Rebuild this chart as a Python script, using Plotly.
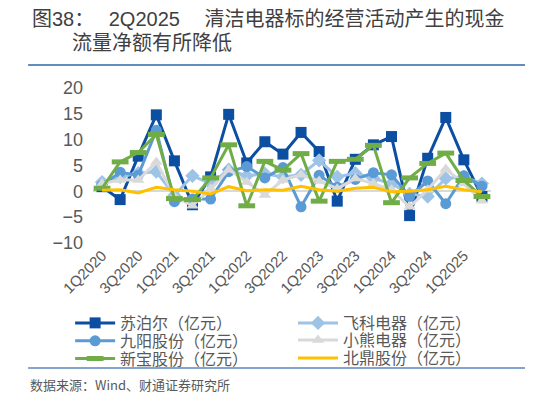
import plotly.graph_objects as go

quarters = ['1Q2020', '2Q2020', '3Q2020', '4Q2020', '1Q2021', '2Q2021', '3Q2021', '4Q2021',
            '1Q2022', '2Q2022', '3Q2022', '4Q2022', '1Q2023', '2Q2023', '3Q2023', '4Q2023',
            '1Q2024', '2Q2024', '3Q2024', '4Q2024', '1Q2025', '2Q2025']
tick_labels = ['1Q2020', '3Q2020', '1Q2021', '3Q2021', '1Q2022', '3Q2022',
               '1Q2023', '3Q2023', '1Q2024', '3Q2024', '1Q2025']

supor = [0.9, -1.6, 6.8, 14.8, 5.9, -2.6, 2.8, 14.9, 5.5, 9.6, 7.2, 11.4, 7.7, -1.9, 6.2, 9.0, 10.6, -4.7, 6.4, 14.3, 6.1, -1.0]
flyco = [1.8, 2.8, 3.5, 3.8, -0.8, 3.0, 1.5, 4.2, 3.0, 3.4, 2.8, 3.2, 6.0, 2.8, 3.5, 2.5, 1.5, -0.5, -1.0, 2.5, 2.8, 1.5]
joyoung = [1.2, 3.7, 3.1, 11.8, -2.0, -1.5, -1.5, 3.8, 4.8, 2.6, 4.6, -3.0, 3.1, 0.8, 2.3, 3.6, 3.2, -1.0, 2.0, -2.4, 3.0, 1.0]
bear = [1.5, 2.2, 2.2, 5.7, -1.0, -2.8, 0.5, 4.2, 1.8, -0.7, 2.2, 3.2, 2.0, 0.5, 2.5, 1.5, 0.3, -3.0, 0.3, 4.3, 1.5, -1.8]
deer = [0.6, 5.7, 7.5, 11.0, -1.4, -1.6, 2.6, 9.0, -2.8, 5.8, 4.1, 7.3, -1.9, 5.8, 6.2, 8.9, -2.2, 2.6, 5.4, 7.4, 2.1, -1.0]
buydeem = [0.2, 0.3, -0.3, 0.8, 0.3, 0.0, -0.5, 0.9, 0.1, 0.3, 0.2, 1.0, 0.3, 0.0, 0.6, 0.8, -0.1, 0.0, 0.3, 1.0, 0.3, -0.1]

font = 'Noto Sans CJK SC'
gray = '#595959'

fig = go.Figure()
fig.add_trace(go.Scatter(x=quarters, y=supor, name='苏泊尔（亿元）', mode='lines+markers', legend='legend2',
                         line=dict(color='#0b4ea2', width=3),
                         marker=dict(symbol='square', size=11, color='#0b4ea2')))
fig.add_trace(go.Scatter(x=quarters, y=flyco, name='飞科电器（亿元）', mode='lines+markers', legend='legend3',
                         line=dict(color='#9dc3e6', width=3),
                         marker=dict(symbol='diamond', size=11, color='#9dc3e6')))
fig.add_trace(go.Scatter(x=quarters, y=joyoung, name='九阳股份（亿元）', mode='lines+markers', legend='legend4',
                         line=dict(color='#5b9bd5', width=3),
                         marker=dict(symbol='circle', size=11, color='#5b9bd5')))
fig.add_trace(go.Scatter(x=quarters, y=bear, name='小熊电器（亿元）', mode='lines+markers', legend='legend5',
                         line=dict(color='#d9d9d9', width=3),
                         marker=dict(symbol='triangle-up', size=11, color='#d9d9d9')))
fig.add_trace(go.Scatter(x=quarters, y=deer, name='新宝股份（亿元）', mode='lines+markers', legend='legend6',
                         line=dict(color='#70ad47', width=3),
                         marker=dict(symbol='line-ew', size=12, color='#70ad47',
                                     line=dict(color='#70ad47', width=5))))
fig.add_trace(go.Scatter(x=quarters, y=buydeem, name='北鼎股份（亿元）', mode='lines', legend='legend7',
                         line=dict(color='#ffc000', width=3)))

# title lines and blue rules
latin = '<span style="font-family:Liberation Sans">{}</span>'
fig.add_annotation(text='图' + latin.format('38') + '：\u3000 ' + latin.format('2Q2025') + '\u3000 清洁电器标的经营活动产生的现金',
                   xref='paper', yref='paper',
                   x=-0.158, y=1.458, xanchor='left', yanchor='middle', showarrow=False,
                   font=dict(family=font, size=20, color='#404040'))
fig.add_annotation(text='流量净额有所降低', xref='paper', yref='paper',
                   x=-0.058, y=1.297, xanchor='left', yanchor='middle', showarrow=False,
                   font=dict(family=font, size=20, color='#404040'))
fig.add_annotation(text='数据来源：Wind、财通证券研究所', xref='paper', yref='paper',
                   x=-0.163, y=-0.916, xanchor='left', yanchor='middle', showarrow=False,
                   font=dict(family=font, size=13, color=gray))
fig.add_shape(type='line', xref='paper', yref='paper', x0=-0.163, x1=1.106, y0=1.148, y1=1.148,
              line=dict(color='#2e64a8', width=1.5))
# bottom rule drawn as an arrowless annotation line
fig.add_annotation(text=' ', xref='paper', yref='paper', x=-0.163, y=-0.806,
                   showarrow=True, arrowhead=0, arrowwidth=1.5, arrowcolor='#5a86c0',
                   ax=505, ay=0, standoff=0, startstandoff=0, font=dict(size=1))

leg = dict(xanchor='left', yanchor='middle', itemwidth=40, bgcolor='rgba(255,255,255,0)',
           font=dict(family=font, size=16, color=gray))
fig.update_layout(
    width=533, height=400,
    margin=dict(l=85, r=50, t=80, b=165, autoexpand=False),
    plot_bgcolor='white', paper_bgcolor='white',
    font=dict(family=font, color=gray),
    legend2=dict(leg, x=-0.0575, y=-0.516),
    legend3=dict(leg, x=0.5025, y=-0.516),
    legend4=dict(leg, x=-0.0575, y=-0.632),
    legend5=dict(leg, x=0.5025, y=-0.626),
    legend6=dict(leg, x=-0.0575, y=-0.745),
    legend7=dict(leg, x=0.5025, y=-0.742),
)
fig.update_xaxes(type='category', tickmode='array', tickvals=tick_labels, ticktext=tick_labels,
                 tickangle=-45, showgrid=False, showline=False, zeroline=False, ticks='',
                 range=[-0.5, 21.5], tickfont=dict(family='Liberation Sans', size=15, color=gray))
fig.update_yaxes(range=[-10, 20], dtick=5, showgrid=False, showline=False, zeroline=True,
                 zerolinecolor='#d9d9d9', zerolinewidth=2, ticks='', ticklabelstandoff=9,
                 tickfont=dict(family='Liberation Sans', size=18, color=gray))

fig.write_html('out.html')
